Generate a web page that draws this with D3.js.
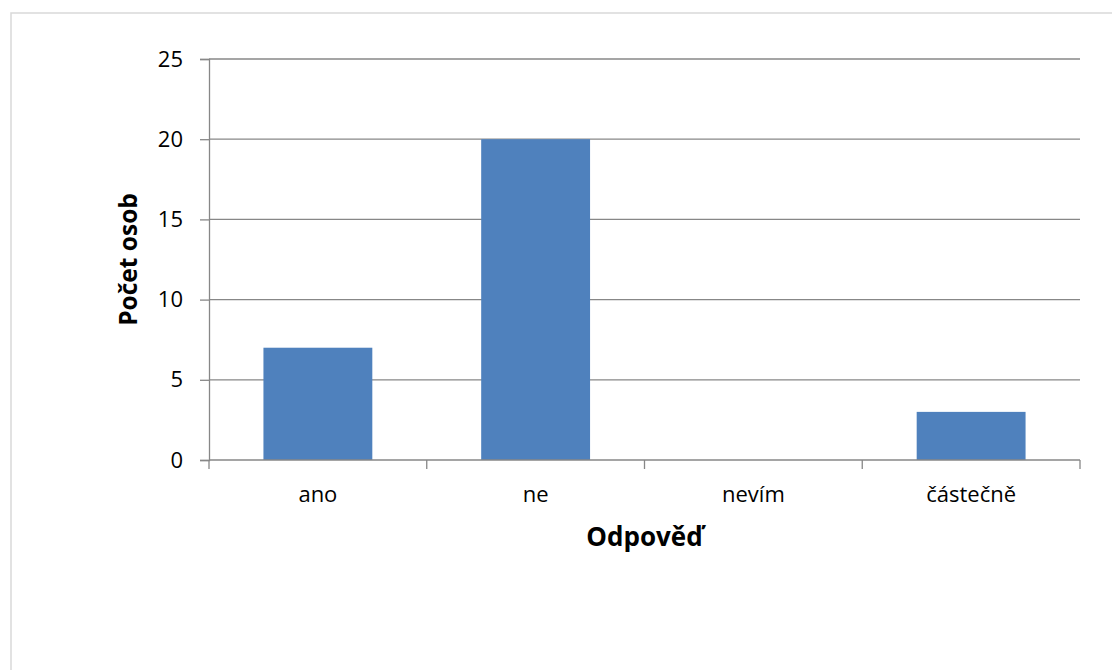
<!DOCTYPE html>
<html><head><meta charset="utf-8">
<script src="https://cdn.jsdelivr.net/npm/d3@7"></script>
<style>body{margin:0;background:#fff}svg{display:block}</style>
</head><body>
<script>
const categories = ["ano", "ne", "nevím", "částečně"];
const values = [7, 20, 0, 3];
const yTicks = [0, 5, 10, 15, 20, 25];
const yTitle = "Počet osob";
const xTitle = "Odpověď";

(function () {
const W = 1112, H = 670;
const svg = d3.select("body").append("svg").attr("width", W).attr("height", H);
const font = "'Open Sans', sans-serif";

svg.append("rect").attr("x", 11).attr("y", 13).attr("width", W + 10).attr("height", H + 10)
  .attr("fill", "#fff").attr("stroke", "#d9d9d9").attr("stroke-width", 1.5);

const pLeft = 209, pRight = 1080, pTop = 59, pBottom = 460;
const y = d3.scaleLinear().domain([0, 25]).range([pBottom, pTop]);
const x = d3.scaleBand().domain(categories).range([pLeft, pRight]).paddingInner(0.5).paddingOuter(0.25);
const xEdge = d3.scaleBand().domain(categories).range([pLeft, pRight]).padding(0);

// gridlines
svg.append("g").selectAll("line").data(yTicks.filter(d => d > 0)).join("line")
  .attr("x1", pLeft).attr("x2", pRight).attr("y1", d => y(d)).attr("y2", d => y(d))
  .attr("stroke", "#878787").attr("stroke-width", 1.3);

// bars
svg.append("g").selectAll("rect").data(categories).join("rect")
  .attr("x", d => x(d)).attr("width", x.bandwidth())
  .attr("y", (d, i) => y(values[i])).attr("height", (d, i) => pBottom - y(values[i]))
  .attr("fill", "#4F81BD");

// y axis
const yAxis = svg.append("g").attr("transform", `translate(${pLeft},0)`)
  .call(d3.axisLeft(y).tickValues(yTicks).tickSize(9).tickPadding(17));
yAxis.select(".domain").attr("stroke", "#878787").attr("stroke-width", 1.3);
yAxis.selectAll(".tick line").attr("stroke", "#878787").attr("stroke-width", 1.3);
yAxis.selectAll("text").attr("font-family", font).attr("font-size", 22).attr("fill", "#000");

// x axis
const xAxis = svg.append("g").attr("transform", `translate(0,${pBottom})`)
  .call(d3.axisBottom(x).tickSize(0).tickPadding(26));
xAxis.select(".domain").remove();
xAxis.selectAll("text").attr("font-family", font).attr("font-size", 22).attr("fill", "#000");
svg.append("line").attr("x1", pLeft).attr("x2", pRight).attr("y1", pBottom).attr("y2", pBottom)
  .attr("stroke", "#878787").attr("stroke-width", 1.3);
const edges = categories.map(c => xEdge(c)).concat([pRight]);
svg.append("g").selectAll("line").data(edges).join("line")
  .attr("x1", d => d).attr("x2", d => d).attr("y1", pBottom).attr("y2", pBottom + 9)
  .attr("stroke", "#878787").attr("stroke-width", 1.3);

// titles
svg.append("text").attr("transform", `translate(137,${(pTop + pBottom) / 2}) rotate(-90)`)
  .attr("text-anchor", "middle").attr("font-family", font).attr("font-weight", "bold")
  .attr("font-size", 24.5).text(yTitle);
svg.append("text").attr("x", (pLeft + pRight) / 2).attr("y", 546)
  .attr("text-anchor", "middle").attr("font-family", font).attr("font-weight", "bold")
  .attr("font-size", 26).text(xTitle);
})();
</script>
</body></html>
